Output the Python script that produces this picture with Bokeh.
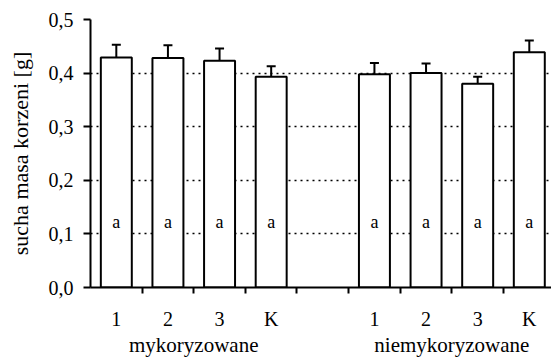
from bokeh.plotting import figure
from bokeh.models import (ColumnDataSource, Range1d, FixedTicker, LinearAxis,
                          Whisker, TeeHead)
from bokeh.core.properties import value
from bokeh.embed import file_html
from bokeh.resources import INLINE

# ---- data ----
groups = ["mykoryzowane", "niemykoryzowane"]
treatments = ["1", "2", "3", "K"]
means_myk = [0.429, 0.428, 0.423, 0.393]
means_niemyk = [0.398, 0.400, 0.380, 0.439]
err_myk = [0.024, 0.024, 0.023, 0.020]
err_niemyk = [0.021, 0.018, 0.013, 0.022]
letters_myk = ["a", "a", "a", "a"]
letters_niemyk = ["a", "a", "a", "a"]
y_ticks = [0.0, 0.1, 0.2, 0.3, 0.4, 0.5]
y_tick_labels = ["0,0", "0,1", "0,2", "0,3", "0,4", "0,5"]
y_label = "sucha masa korzeni [g]"

FONT = "Liberation Serif"

# slot layout: group 1 in slots 0..3, empty slot 4, group 2 in slots 5..8
x_myk = [i + 0.5 for i in range(4)]
x_niemyk = [i + 5.5 for i in range(4)]
xs = x_myk + x_niemyk
means = means_myk + means_niemyk
errs = err_myk + err_niemyk
src = ColumnDataSource(dict(
    x=xs,
    top=means,
    upper=[m + e for m, e in zip(means, errs)],
    letter=letters_myk + letters_niemyk,
    ly=[0.123] * len(xs),
))

p = figure(width=551, height=359, output_backend="svg", toolbar_location=None,
           x_range=Range1d(0, 8.93), y_range=Range1d(0, 0.5),
           min_border_left=90, min_border_right=0, min_border_top=19,
           min_border_bottom=71, x_axis_type=None)
p.outline_line_color = None
p.background_fill_color = "white"

# grid
p.ygrid.ticker = FixedTicker(ticks=y_ticks)
p.ygrid.grid_line_color = "black"
p.ygrid.grid_line_dash = "2 4"
p.ygrid.grid_line_width = 1.5
p.xgrid.visible = False

# bars
p.vbar(x="x", top="top", bottom=0, width=0.6, source=src,
       fill_color="white", line_color="black", line_width=2)

# error bars (upper only)
w = Whisker(source=src, base="x", lower="top", upper="upper", dimension="height",
            line_color="black", line_width=2,
            upper_head=TeeHead(size=9, line_color="black", line_width=2),
            lower_head=None)
p.add_layout(w)

# letters
p.text(x="x", y="ly", text="letter", source=src, text_align="center",
       text_baseline="middle", text_font=value(FONT), text_font_size="18px",
       text_color="black")

# y axis
ya = p.yaxis[0]
ya.ticker = FixedTicker(ticks=y_ticks, minor_ticks=[])
ya.major_label_overrides = dict(zip(y_ticks, y_tick_labels))
ya.major_label_text_font = FONT
ya.major_label_text_font_size = "20px"
ya.major_label_text_color = "black"
ya.major_label_standoff = 10
ya.major_tick_out = 7
ya.major_tick_in = 0
ya.minor_tick_out = 0
ya.minor_tick_in = 0
ya.major_tick_line_width = 2
ya.axis_line_width = 2
ya.axis_line_color = "black"
ya.major_tick_line_color = "black"
ya.axis_label = y_label
ya.axis_label_text_font = FONT
ya.axis_label_text_font_style = "normal"
ya.axis_label_text_font_size = "22px"
ya.axis_label_text_color = "black"
ya.axis_label_standoff = 13

# x axis: treatment labels at slot centres, tick marks at slot boundaries
xa = LinearAxis(ticker=FixedTicker(ticks=xs, minor_ticks=list(range(1, 9))))
xa.major_label_overrides = dict(zip(xs, treatments + treatments))
xa.major_label_text_font = FONT
xa.major_label_text_font_size = "20px"
xa.major_label_text_color = "black"
xa.major_label_standoff = 14
xa.major_tick_out = 0
xa.major_tick_in = 0
xa.minor_tick_out = 6
xa.minor_tick_in = 0
xa.minor_tick_line_width = 2
xa.minor_tick_line_color = "black"
xa.axis_line_width = 2
xa.axis_line_color = "black"
p.add_layout(xa, "below")

# group labels
ga = LinearAxis(ticker=FixedTicker(ticks=[2, 7], minor_ticks=[]))
ga.major_label_overrides = dict(zip([2, 7], groups))
ga.major_label_text_font = FONT
ga.major_label_text_font_size = "21px"
ga.major_label_text_color = "black"
ga.major_label_standoff = 0
ga.major_tick_out = 0
ga.major_tick_in = 0
ga.minor_tick_out = 0
ga.minor_tick_in = 0
ga.axis_line_color = None
p.add_layout(ga, "below")

open("out.html", "w").write(file_html(p, INLINE))
